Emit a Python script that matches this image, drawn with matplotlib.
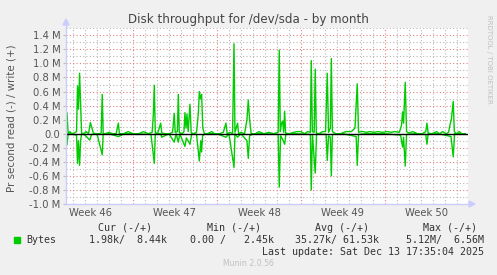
import matplotlib
matplotlib.use('Agg')
import matplotlib.pyplot as plt
from matplotlib.patches import Rectangle
import numpy as np

W, H = 497, 275

# days since Mon Nov 10 2025, values in MB/s
write_days = [1.42, 1.5, 1.6, 1.75, 1.9, 2.1, 2.3, 2.38, 2.46, 2.55, 2.64, 2.72, 2.9, 3.1, 3.3, 3.45, 3.55,
              3.7, 3.9, 4.2, 4.35, 4.44, 4.52, 4.7, 5.0, 5.3, 5.6, 5.78, 5.87, 6.2, 6.61, 7.0, 7.5, 7.86,
              8.3, 8.6, 8.7, 8.78, 8.86, 9.05, 9.31, 9.4, 9.7, 10.0, 10.3, 10.44, 10.52, 10.7, 10.78, 10.86,
              11.1, 11.25, 11.33, 11.42, 11.5, 11.6, 11.75, 11.85, 12.0, 12.3, 12.45, 12.53, 12.62, 12.72,
              12.82, 12.95, 13.2, 13.56, 13.8, 14.2, 14.53, 14.75, 14.85, 15.1, 15.3, 15.42, 15.5, 15.72,
              15.8, 16.0, 16.3, 16.5, 16.61, 16.72, 16.85, 17.2, 17.5, 17.9, 18.33, 18.7, 19.1, 19.19, 19.28,
              19.38, 19.47, 19.56, 19.64, 19.72, 20.0, 20.4, 20.67, 21.0, 21.3, 21.56, 21.78, 21.86, 21.95,
              22.1, 22.19, 22.28, 22.5, 22.8, 23.05, 23.19, 23.3, 23.45, 23.53, 23.62, 23.9, 24.3, 24.75,
              25.2, 25.5, 25.69, 25.8, 26.0, 26.17, 26.45, 26.75, 27.1, 27.4, 27.8, 28.2, 28.5, 28.8, 29.2,
              29.38, 29.47, 29.55, 29.69, 29.8, 30.0, 30.33, 30.7, 31.1, 31.4, 31.5, 31.6, 31.9, 32.3, 32.55,
              32.8, 33.1, 33.3, 33.45, 33.53, 33.69, 33.78, 33.95, 34.19, 34.4, 34.67]
write_vals = [0.0, 0.3, 0.0, 0.03, 0.0, 0.01, 0.03, 0.68, 0.35, 0.86, 0.4, 0.01, 0.0, 0.03, 0.0, 0.16, 0.1,
              0.01, 0.0, 0.0, 0.01, 0.56, 0.0, 0.0, 0.02, 0.0, 0.0, 0.15, 0.0, 0.0, 0.03, 0.0, 0.0, 0.03,
              0.0, 0.02, 0.28, 0.69, 0.02, 0.0, 0.15, 0.01, 0.0, 0.0, 0.02, 0.29, 0.02, 0.03, 0.56, 0.02,
              0.0, 0.03, 0.3, 0.08, 0.28, 0.03, 0.42, 0.02, 0.0, 0.02, 0.3, 0.6, 0.5, 0.56,
              0.08, 0.0, 0.0, 0.03, 0.0, 0.0, 0.02, 0.15, 0.0, 0.02, 0.0, 1.28, 0.02, 0.15,
              0.0, 0.02, 0.0, 0.2, 0.48, 0.2, 0.0, 0.0, 0.03, 0.0, 0.02, 0.0, 0.02, 1.19, 0.03,
              0.15, 0.18, 0.02, 0.32, 0.01, 0.0, 0.02, 0.03, 0.03, 0.0, 0.03, 0.02, 1.04, 0.03,
              0.02, 0.92, 0.01, 0.0, 0.03, 0.03, 0.86, 0.02, 0.08, 1.07, 0.03, 0.0, 0.0, 0.03,
              0.03, 0.08, 0.71, 0.02, 0.03, 0.03, 0.02, 0.03, 0.02, 0.03, 0.02, 0.03, 0.02, 0.03, 0.02,
              0.12, 0.31, 0.15, 0.73, 0.03, 0.01, 0.03, 0.0, 0.0, 0.03, 0.15, 0.01, 0.0, 0.03, 0.0,
              0.03, 0.0, 0.02, 0.15, 0.2, 0.46, 0.03, 0.0, 0.03, 0.0, 0.0]

read_days = [1.42, 1.5, 1.6, 2.0, 2.3, 2.38, 2.46, 2.55, 2.64, 2.72, 3.0, 3.4, 3.55, 4.0, 4.44, 4.52, 5.0,
             5.78, 6.3, 7.0, 8.5, 8.78, 8.86, 9.31, 9.4, 10.0, 10.44, 10.6, 10.78, 10.9, 11.33, 11.45, 11.6,
             11.75, 11.9, 12.3, 12.53, 12.65, 12.72, 12.8, 13.0, 14.0, 14.75, 15.0, 15.42, 15.5, 15.72, 16.0,
             16.5, 16.61, 16.72, 17.0, 18.0, 19.1, 19.19, 19.3, 19.47, 19.64, 19.75, 20.5, 21.78, 21.86, 21.95,
             22.19, 22.3, 23.1, 23.19, 23.3, 23.45, 23.53, 23.62, 24.5, 25.6, 25.69, 25.8, 26.5, 28.0, 29.3,
             29.47, 29.55, 29.69, 29.8, 30.5, 31.4, 31.5, 31.6, 32.5, 33.5, 33.69, 33.8, 34.67]
read_vals = [0.0, 0.16, 0.0, 0.01, 0.02, 0.42, 0.1, 0.45, 0.1, 0.0, 0.02, 0.09, 0.01, 0.0, 0.3, 0.0, 0.0,
             0.04, 0.0, 0.0, 0.01, 0.42, 0.0, 0.0, 0.05, 0.0, 0.12, 0.0, 0.12, 0.0, 0.18, 0.06, 0.1,
             0.15, 0.0, 0.01, 0.39, 0.1, 0.26, 0.03, 0.0, 0.0, 0.05, 0.0, 0.48, 0.0, 0.05, 0.0,
             0.1, 0.35, 0.03, 0.0, 0.0, 0.01, 0.76, 0.03, 0.08, 0.15, 0.0, 0.0, 0.01, 0.8, 0.01,
             0.56, 0.0, 0.01, 0.38, 0.03, 0.05, 0.6, 0.01, 0.0, 0.04, 0.45, 0.01, 0.0, 0.0, 0.02,
             0.19, 0.05, 0.46, 0.01, 0.0, 0.01, 0.15, 0.0, 0.0, 0.04, 0.33, 0.0, 0.0]

week_labels = ['Week 46', 'Week 47', 'Week 48', 'Week 49', 'Week 50']
week_centers = [3.5, 10.5, 17.5, 24.5, 31.5]
yticks = [-1.0, -0.8, -0.6, -0.4, -0.2, 0.0, 0.2, 0.4, 0.6, 0.8, 1.0, 1.2, 1.4]

def fx(px):
    return px / W

def fy(py):
    return 1 - py / H

fig = plt.figure(figsize=(W / 100, H / 100), dpi=100, facecolor='#f0f0f0')
ax = fig.add_axes([fx(66), fy(204), fx(468) - fx(66), fy(28.3) - fy(204)])
ax.set_facecolor('white')
ax.set_xlim(1.42, 34.92)
ax.set_ylim(-1.0, 1.5)

# grid
minor = dict(color='#b8b8b8', lw=0.8, ls=(0, (1, 2)), zorder=1)
major = dict(color='#e08080', lw=0.8, ls=(0, (1, 2)), zorder=1)
for d in range(2, 35):
    if d % 7 != 0:
        ax.axvline(d, **minor)
for d in [7, 14, 21, 28]:
    ax.axvline(d, **major)
for v in np.arange(-0.9, 1.51, 0.2):
    ax.axhline(v, **minor)
for v in yticks:
    if v != -1.0:
        ax.axhline(v, **major)

ax.plot(read_days, [-v for v in read_vals], color='#00cc00', lw=1.0, zorder=3)
ax.plot(write_days, write_vals, color='#00cc00', lw=1.0, zorder=3)
ax.axhline(0, color='black', lw=1.0, zorder=4)

ax.set_yticks(yticks)
ax.set_yticklabels(['0.0' if v == 0 else f'{v:.1f} M' for v in yticks])
ax.set_xticks(week_centers)
ax.set_xticklabels(week_labels)
ax.tick_params(axis='both', labelsize=7.2, colors='#555555', length=0, pad=4)
ax.tick_params(axis='x', pad=3)
ax.tick_params(axis='y', length=2, color='#bbbbbb', pad=2)
for s in ax.spines.values():
    s.set_visible(False)

# axes arrows
fig.add_artist(plt.Line2D([fx(66), fx(66)], [fy(204), fy(22)], color='#ccccff', lw=1))
fig.add_artist(plt.Line2D([fx(66), fx(471)], [fy(204), fy(204)], color='#ccccff', lw=1))
fig.add_artist(plt.Polygon([[fx(63), fy(25)], [fx(69), fy(25)], [fx(66), fy(19)]], color='#ccccff'))
fig.add_artist(plt.Polygon([[fx(469), fy(201)], [fx(469), fy(207)], [fx(475), fy(204)]], color='#ccccff'))

fig.text(fx(248), fy(19), 'Disk throughput for /dev/sda - by month', ha='center', va='center',
         fontsize=8.6, color='#444444')
fig.text(fx(12), fy(118), 'Pr second read (-) / write (+)', rotation=90, ha='center', va='center',
         fontsize=7.4, color='#555555')
fig.text(fx(489), fy(15), 'RRDTOOL / TOBI OETIKER', rotation=270, ha='center', va='top',
         fontsize=5, color='#c0c0c0')

mono = dict(family='DejaVu Sans Mono', fontsize=7.2, color='#333333', va='center')
fig.text(fx(98), fy(228), 'Cur (-/+)', ha='left', **mono)
fig.text(fx(207), fy(228), 'Min (-/+)', ha='left', **mono)
fig.text(fx(315), fy(228), 'Avg (-/+)', ha='left', **mono)
fig.text(fx(423), fy(228), 'Max (-/+)', ha='left', **mono)
fig.add_artist(Rectangle((fx(14), fy(243)), fx(6), fy(237) - fy(243), color='#00cc00'))
fig.text(fx(26), fy(240), 'Bytes', ha='left', **mono)
fig.text(fx(167), fy(240), '1.98k/  8.44k', ha='right', **mono)
fig.text(fx(274), fy(240), '0.00 /   2.45k', ha='right', **mono)
fig.text(fx(379), fy(240), '35.27k/ 61.53k', ha='right', **mono)
fig.text(fx(484), fy(240), '5.12M/  6.56M', ha='right', **mono)
fig.text(fx(484), fy(252), 'Last update: Sat Dec 13 17:35:04 2025', ha='right', **mono)
fig.text(fx(248), fy(264), 'Munin 2.0.56', ha='center', va='center', fontsize=5.6, color='#c0c0c0')

fig.savefig('out.png', dpi=100, facecolor=fig.get_facecolor())
